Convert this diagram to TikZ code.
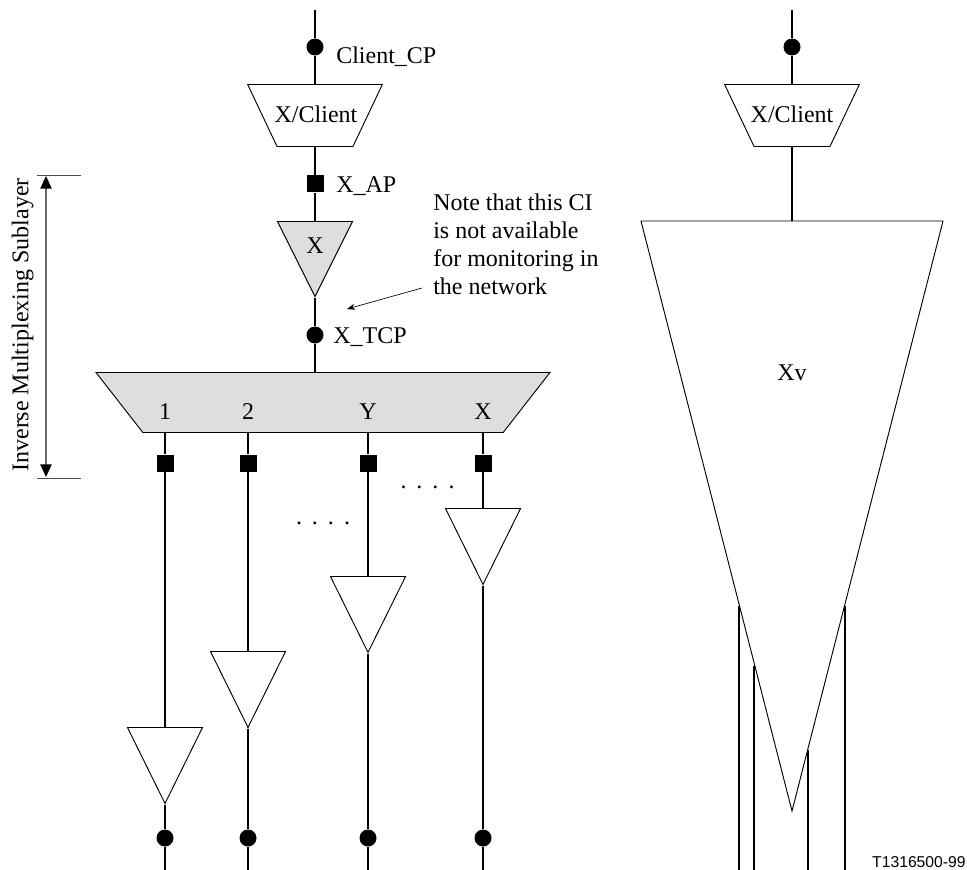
\documentclass[tikz,border=0pt]{standalone}
\usepackage{fontspec}
\setmainfont{Liberation Serif}
\setsansfont{Liberation Sans}
\usetikzlibrary{arrows.meta,shapes.geometric}

\begin{document}
\begin{tikzpicture}[
    x=0.75pt, y=-0.75pt,
    font=\fontsize{18pt}{20.8pt}\selectfont,
    tri/.style={isosceles triangle, isosceles triangle stretches, shape border rotate=270, draw, line width=0.7pt, inner sep=1pt, anchor=lower side},
    smalltri/.style={tri, fill=white, minimum width=56.25pt, minimum height=57pt},
    trap/.style={trapezium, trapezium stretches body, shape border rotate=180, draw, line width=0.7pt, inner sep=1pt, anchor=north},
    clienttrap/.style={trap, minimum width=101pt, minimum height=46.5pt, trapezium left angle=46, trapezium right angle=46},
    link/.style={line width=1.1pt},
    dot/.style={circle, fill=black, inner sep=0pt, minimum size=12.75pt},
    sq/.style={rectangle, fill=black, inner sep=0pt, minimum size=12.75pt},
    tick/.style={line width=0.5pt, black!70},
    arrow/.style={{Triangle[length=9.5pt,width=8.5pt,color=black]}-{Triangle[length=9.5pt,width=8.5pt,color=black]}, line width=1pt, black!60},
    lab/.style={inner sep=0pt, anchor=base west},
    mid/.style={inner sep=0pt, anchor=base}
]
    \useasboundingbox (0,0) rectangle (967,870);

    % left column
    \coordinate (ltop) at (315,10);
    \node[dot] (cp) at (315,47) {};
    \node[clienttrap] (lclient) at (315,84) {\strut};
    \node[sq] (ap) at (315,184) {};
    \node[tri, fill=black!13, minimum width=56.25pt, minimum height=56.25pt] (x) at (315,221) {\strut};
    \node[dot] (tcp) at (315,335) {};
    \node[trap, fill=black!13, minimum width=340.5pt, minimum height=45pt, trapezium left angle=33, trapezium right angle=33] (mux) at (323,372) {\strut};

    % branches
    \coordinate (m1) at (165,432);
    \coordinate (m2) at (248,432);
    \coordinate (m3) at (368,432);
    \coordinate (m4) at (483,432);
    \node[sq] (s1) at (165,463) {};
    \node[sq] (s2) at (248,463) {};
    \node[sq] (s3) at (368,463) {};
    \node[sq] (s4) at (483,463) {};
    \node[smalltri] (t1) at (165,727) {\strut};
    \node[smalltri] (t2) at (248,651) {\strut};
    \node[smalltri] (t3) at (368,576) {\strut};
    \node[smalltri] (t4) at (483,508) {\strut};
    \node[dot] (d1) at (165,838) {};
    \node[dot] (d2) at (248,838) {};
    \node[dot] (d3) at (368,838) {};
    \node[dot] (d4) at (483,838) {};
    \coordinate (e1) at (165,870);
    \coordinate (e2) at (248,870);
    \coordinate (e3) at (368,870);
    \coordinate (e4) at (483,870);

    % right column
    \coordinate (rtop) at (792,10);
    \node[dot] (rcp) at (792,47) {};
    \node[clienttrap] (rclient) at (792,84) {\strut};
    \coordinate (vtop) at (792,221);
    \draw[line width=0.7pt, fill=white] (641,221) coordinate (vl) -- (943,221) coordinate (vr) -- (792,811) coordinate (vapex) -- cycle;
    \coordinate (v1) at (739,606);
    \coordinate (v2) at (754,666);
    \coordinate (v3) at (808,750);
    \coordinate (v4) at (845,606);
    \coordinate (f1) at (739,870);
    \coordinate (f2) at (754,870);
    \coordinate (f3) at (808,870);
    \coordinate (f4) at (845,870);

    \draw[link] (ltop) -- (cp) -- (lclient.north);
    \draw[link] (lclient.south) -- (ap) -- (x.lower side);
    \draw[link] (x.apex) -- (tcp) -- (tcp |- mux.north);
    \draw[link] (m1) -- (s1) -- (t1.lower side);
    \draw[link] (m2) -- (s2) -- (t2.lower side);
    \draw[link] (m3) -- (s3) -- (t3.lower side);
    \draw[link] (m4) -- (s4) -- (t4.lower side);
    \draw[link] (t1.apex) -- (d1) -- (e1);
    \draw[link] (t2.apex) -- (d2) -- (e2);
    \draw[link] (t3.apex) -- (d3) -- (e3);
    \draw[link] (t4.apex) -- (d4) -- (e4);
    \draw[link] (rtop) -- (rcp) -- (rclient.north);
    \draw[link] (rclient.south) -- (vtop);
    \draw[link] (v1) -- (f1);
    \draw[link] (v2) -- (f2);
    \draw[link] (v3) -- (f3);
    \draw[link] (v4) -- (f4);

    % labels
    \node[lab] (cplab) at (336,64) {Client\_CP};
    \node[mid] (lclab) at (316,123) {X/Client};
    \node[lab] (aplab) at (336,193) {X\_AP};
    \node[mid] (xlab) at (315,253) {X};
    \node[lab] (tcplab) at (333,343) {X\_TCP};
    \node[mid] (n1) at (165,419) {1};
    \node[mid] (n2) at (248,419) {2};
    \node[mid] (n3) at (368,419) {Y};
    \node[mid] (n4) at (483,419) {X};
    \node[mid] (rclab) at (792,123) {X/Client};
    \node[mid] (xvlab) at (792,380) {Xv};
    \node[mid] (dots1) at (323,524) {.\hspace{7.5pt}.\hspace{7.5pt}.\hspace{7.5pt}.};
    \node[mid] (dots2) at (427.5,488) {.\hspace{7.5pt}.\hspace{7.5pt}.\hspace{7.5pt}.};
    \node[lab, align=left] (note) at (433,294) {Note that this CI\\is not available\\for monitoring in\\the network};
    \node[inner sep=0pt, anchor=base east, font=\sffamily\fontsize{11.8pt}{14pt}\selectfont] (code) at (966,867) {T1316500-99};

    % note arrow
    \coordinate (notetip) at (347,309);
    \coordinate (notefrom) at (422,288);
    \draw[-{Stealth[length=6pt,width=4.5pt]}, line width=0.5pt] (notefrom) -- (notetip);

    % sublayer dimension
    \coordinate (dimtop) at (37,175);
    \coordinate (dimtopr) at (81,175);
    \coordinate (dimbot) at (37,478);
    \coordinate (dimbotr) at (81,478);
    \coordinate (aa) at (46,176);
    \coordinate (ab) at (46,477);
    \draw[tick] (dimtop) -- (dimtopr);
    \draw[tick] (dimbot) -- (dimbotr);
    \draw[arrow] (aa) -- (ab);
    \node[rotate=90, inner sep=0pt, anchor=base] (sublayer) at (28.5,325) {Inverse Multiplexing Sublayer};
\end{tikzpicture}
\end{document}
